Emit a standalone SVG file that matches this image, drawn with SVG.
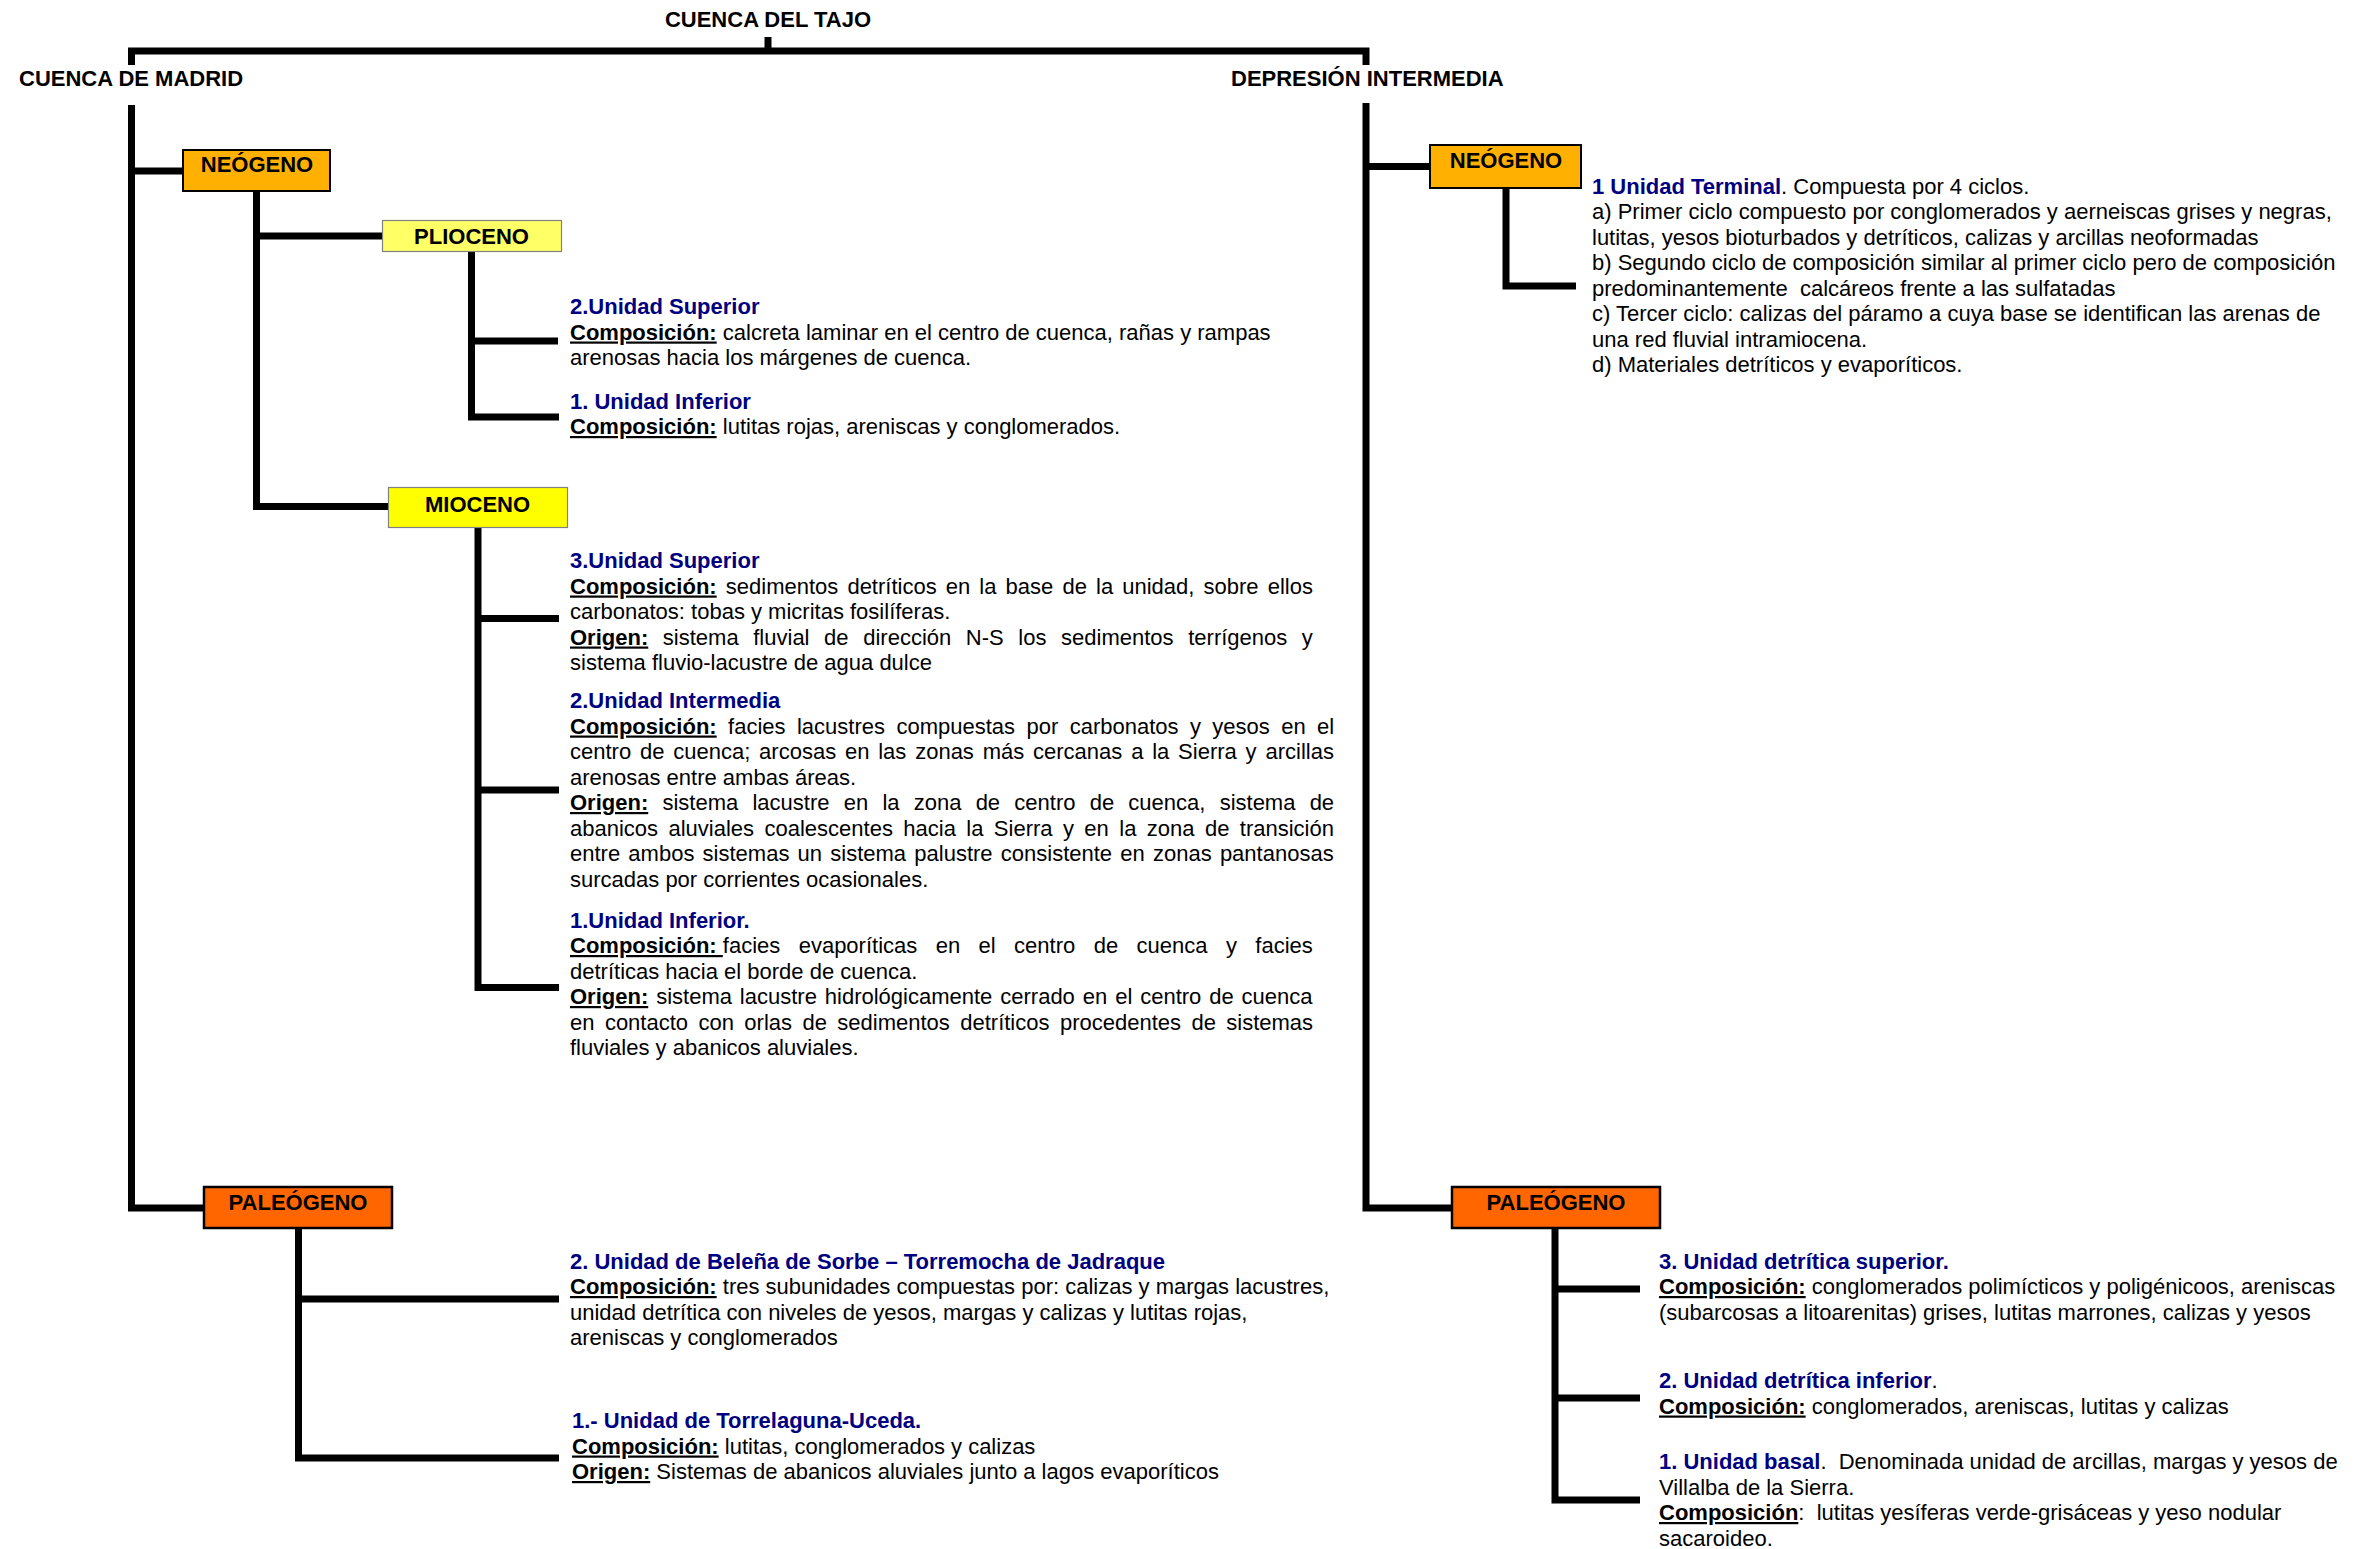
<svg xmlns="http://www.w3.org/2000/svg" width="2358" height="1549" viewBox="0 0 2358 1549">
<style>
text{font-family:"Liberation Sans",Arial,Helvetica,sans-serif;font-size:22px;fill:#000;white-space:pre}
.b{font-weight:bold}
.m{font-weight:bold;text-anchor:middle}
.h{font-weight:bold;fill:#000080}
.u{font-weight:bold;text-decoration:underline}
.c{fill:none;stroke:#000;stroke-width:7;stroke-linejoin:miter;stroke-linecap:butt}
.neo{fill:#FFB000;stroke:#000;stroke-width:2}
.pal{fill:#FF6600;stroke:#000;stroke-width:2.5}
.pli{fill:#FFFF66;stroke:#808080;stroke-width:1.2}
.mio{fill:#FFFF00;stroke:#808080;stroke-width:1.2}
</style>
<rect x="0" y="0" width="2358" height="1549" fill="#fff"/>
<g id="connectors">
<path class="c" d="M768 37 V51"/>
<path class="c" d="M131.5 65 V51 H1366 V65"/>
<path class="c" d="M131.5 105 V1208 H204"/>
<path class="c" d="M131.5 171 H183"/>
<path class="c" d="M256.5 192 V506.5 H389"/>
<path class="c" d="M256.5 236 H383"/>
<path class="c" d="M471.5 252 V417 H559"/>
<path class="c" d="M471.5 341 H558"/>
<path class="c" d="M478 528 V987.5 H559"/>
<path class="c" d="M478 618.5 H559"/>
<path class="c" d="M478 790 H559"/>
<path class="c" d="M298.5 1229 V1458 H559"/>
<path class="c" d="M298.5 1299 H559"/>
<path class="c" d="M1366 103 V1208 H1452"/>
<path class="c" d="M1366 166.5 H1430"/>
<path class="c" d="M1506 189 V286 H1576"/>
<path class="c" d="M1555 1229 V1500 H1640"/>
<path class="c" d="M1555 1289 H1640"/>
<path class="c" d="M1555 1398 H1640"/>
</g>
<g id="cuenca-tajo"><text class="m" x="768" y="27">CUENCA DEL TAJO</text></g>
<g id="cuenca-madrid"><text class="b" x="19" y="86">CUENCA DE MADRID</text></g>
<g id="depresion-intermedia"><text class="b" x="1231" y="86">DEPRESIÓN INTERMEDIA</text></g>
<g id="neogeno-madrid"><rect class="neo" x="183" y="150" width="147" height="41"/><text class="m" x="257" y="172">NEÓGENO</text></g>
<g id="plioceno"><rect class="pli" x="382.5" y="220.5" width="179" height="31"/><text class="m" x="471.5" y="244">PLIOCENO</text></g>
<g id="mioceno"><rect class="mio" x="388.5" y="487.5" width="179" height="40"/><text class="m" x="477.5" y="512">MIOCENO</text></g>
<g id="paleogeno-madrid"><rect class="pal" x="204" y="1187" width="188" height="41"/><text class="m" x="298" y="1210">PALEÓGENO</text></g>
<g id="neogeno-depresion"><rect class="neo" x="1430" y="145" width="151" height="43"/><text class="m" x="1506" y="168">NEÓGENO</text></g>
<g id="paleogeno-depresion"><rect class="pal" x="1452" y="1187" width="208" height="41"/><text class="m" x="1556" y="1210">PALEÓGENO</text></g>
<g id="plioceno-superior">
<text class="h" x="570" y="314">2.Unidad Superior</text>
<text x="570" y="339.5"><tspan class="u">Composición:</tspan> calcreta laminar en el centro de cuenca, rañas y rampas</text>
<text x="570" y="365">arenosas hacia los márgenes de cuenca.</text>
</g>
<g id="plioceno-inferior">
<text class="h" x="570" y="408.5">1. Unidad Inferior</text>
<text x="570" y="434"><tspan class="u">Composición:</tspan> lutitas rojas, areniscas y conglomerados.</text>
</g>
<g id="mioceno-superior">
<text class="h" x="570" y="568">3.Unidad Superior</text>
<text x="570" y="593.5" word-spacing="3"><tspan class="u">Composición:</tspan> sedimentos detríticos en la base de la unidad, sobre ellos</text>
<text x="570" y="619">carbonatos: tobas y micritas fosilíferas.</text>
<text x="570" y="644.5" word-spacing="8.5"><tspan class="u">Origen:</tspan> sistema fluvial de dirección N-S los sedimentos terrígenos y</text>
<text x="570" y="670">sistema fluvio-lacustre de agua dulce</text>
</g>
<g id="mioceno-intermedia">
<text class="h" x="570" y="708">2.Unidad Intermedia</text>
<text x="570" y="733.5" word-spacing="5.3"><tspan class="u">Composición:</tspan> facies lacustres compuestas por carbonatos y yesos en el</text>
<text x="570" y="759" word-spacing="2.7">centro de cuenca; arcosas en las zonas más cercanas a la Sierra y arcillas</text>
<text x="570" y="784.5">arenosas entre ambas áreas.</text>
<text x="570" y="810" word-spacing="8.1"><tspan class="u">Origen:</tspan> sistema lacustre en la zona de centro de cuenca, sistema de</text>
<text x="570" y="835.5" word-spacing="4.3">abanicos aluviales coalescentes hacia la Sierra y en la zona de transición</text>
<text x="570" y="861" word-spacing="2.1">entre ambos sistemas un sistema palustre consistente en zonas pantanosas</text>
<text x="570" y="886.5">surcadas por corrientes ocasionales.</text>
</g>
<g id="mioceno-inferior">
<text class="h" x="570" y="927.5">1.Unidad Inferior.</text>
<text x="570" y="953" word-spacing="12.3"><tspan class="u" word-spacing="0">Composición: </tspan>facies evaporíticas en el centro de cuenca y facies</text>
<text x="570" y="978.5">detríticas hacia el borde de cuenca.</text>
<text x="570" y="1004" word-spacing="1.8"><tspan class="u">Origen:</tspan> sistema lacustre hidrológicamente cerrado en el centro de cuenca</text>
<text x="570" y="1029.5" word-spacing="4.3">en contacto con orlas de sedimentos detríticos procedentes de sistemas</text>
<text x="570" y="1055">fluviales y abanicos aluviales.</text>
</g>
<g id="paleogeno-belena">
<text class="h" x="570" y="1268.5">2. Unidad de Beleña de Sorbe – Torremocha de Jadraque</text>
<text x="570" y="1294"><tspan class="u">Composición:</tspan> tres subunidades compuestas por: calizas y margas lacustres,</text>
<text x="570" y="1319.5">unidad detrítica con niveles de yesos, margas y calizas y lutitas rojas,</text>
<text x="570" y="1345">areniscas y conglomerados</text>
</g>
<g id="paleogeno-torrelaguna">
<text class="h" x="572" y="1428">1.- Unidad de Torrelaguna-Uceda.</text>
<text x="572" y="1453.5"><tspan class="u">Composición:</tspan> lutitas, conglomerados y calizas</text>
<text x="572" y="1479"><tspan class="u">Origen:</tspan> Sistemas de abanicos aluviales junto a lagos evaporíticos</text>
</g>
<g id="unidad-terminal">
<text x="1592" y="193.5"><tspan class="h">1 Unidad Terminal</tspan>. Compuesta por 4 ciclos.</text>
<text x="1592" y="219">a) Primer ciclo compuesto por conglomerados y aerneiscas grises y negras,</text>
<text x="1592" y="244.5">lutitas, yesos bioturbados y detríticos, calizas y arcillas neoformadas</text>
<text x="1592" y="270">b) Segundo ciclo de composición similar al primer ciclo pero de composición</text>
<text x="1592" y="295.5">predominantemente  calcáreos frente a las sulfatadas</text>
<text x="1592" y="321">c) Tercer ciclo: calizas del páramo a cuya base se identifican las arenas de</text>
<text x="1592" y="346.5">una red fluvial intramiocena.</text>
<text x="1592" y="372">d) Materiales detríticos y evaporíticos.</text>
</g>
<g id="detritica-superior">
<text class="h" x="1659" y="1268.5">3. Unidad detrítica superior.</text>
<text x="1659" y="1294"><tspan class="u">Composición:</tspan> conglomerados polimícticos y poligénicoos, areniscas</text>
<text x="1659" y="1319.5">(subarcosas a litoarenitas) grises, lutitas marrones, calizas y yesos</text>
</g>
<g id="detritica-inferior">
<text x="1659" y="1388"><tspan class="h">2. Unidad detrítica inferior</tspan>.</text>
<text x="1659" y="1413.5"><tspan class="u">Composición:</tspan> conglomerados, areniscas, lutitas y calizas</text>
</g>
<g id="unidad-basal">
<text x="1659" y="1469"><tspan class="h">1. Unidad basal</tspan>.  Denominada unidad de arcillas, margas y yesos de</text>
<text x="1659" y="1494.5">Villalba de la Sierra.</text>
<text x="1659" y="1520"><tspan class="u">Composición</tspan>:  lutitas yesíferas verde-grisáceas y yeso nodular</text>
<text x="1659" y="1545.5">sacaroideo.</text>
</g>
</svg>
